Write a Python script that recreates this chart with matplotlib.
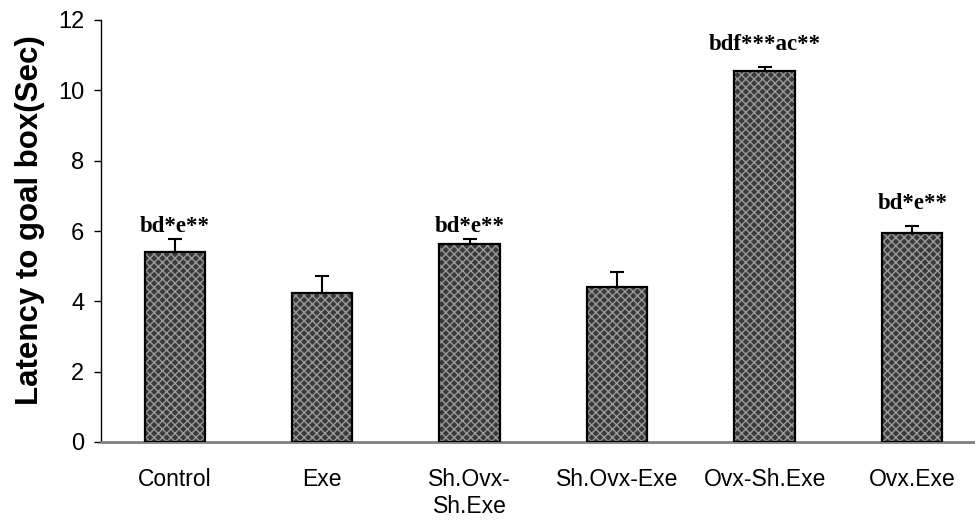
import matplotlib
matplotlib.use("Agg")
import matplotlib.pyplot as plt
import numpy as np

categories = ["Control", "Exe", "Sh.Ovx-\nSh.Exe", "Sh.Ovx-Exe", "Ovx-Sh.Exe", "Ovx.Exe"]
means = [5.39, 4.24, 5.62, 4.41, 10.55, 5.94]
sem = [0.38, 0.48, 0.15, 0.43, 0.11, 0.21]
sig_labels = ["bd*e**", "", "bd*e**", "", "bdf***ac**", "bd*e**"]
label_offsets = [5, 0, 5, 0, 12, 12]

fig = plt.figure(figsize=(9.75, 5.22), dpi=100)
W, H = 975, 522
left, right_px, bottom_px, top_px = 101, 975, 442, 20
ax = fig.add_axes([left / W, 1 - bottom_px / H, (right_px - left) / W, (bottom_px - top_px) / H])

x = np.arange(len(categories))
bw = 0.41
plt.rcParams['hatch.linewidth'] = 1.0
ax.bar(x, means, width=bw, color="#3a3a3a", edgecolor="#9a9a9a", hatch="xxxx", linewidth=0, zorder=2)
ax.bar(x, means, width=bw, fill=False, edgecolor="black", linewidth=1.6, zorder=3)
ax.errorbar(x, means, yerr=[np.zeros(len(sem)), sem], fmt="none", ecolor="black",
            elinewidth=1.5, capsize=4.7, capthick=1.5, zorder=4)

for xi, m, s, lab, off in zip(x, means, sem, sig_labels, label_offsets):
    if lab:
        ax.annotate(lab, (xi, m + s), xytext=(0, off), textcoords="offset points",
                    ha="center", va="baseline", fontsize=16.5, fontweight="bold",
                    family="Liberation Serif")

ax.set_xlim(-0.5, 5.5 - (986 - 975) / 148)
ax.set_ylim(0, 12)
ax.set_yticks(np.arange(0, 13, 2))
ax.set_yticklabels([str(v) for v in range(0, 13, 2)], fontsize=17, family="Liberation Sans")
ax.set_xticks(x)
ax.set_xticklabels(categories, fontsize=16.5, family="Liberation Sans", linespacing=1.2)
ax.tick_params(axis="x", length=0, pad=19)
ax.tick_params(axis="y", length=5, width=1, pad=7, direction="out")

for side in ["top", "right"]:
    ax.spines[side].set_visible(False)
ax.spines["left"].set_linewidth(1)
ax.spines["bottom"].set_color("#808080")
ax.spines["bottom"].set_linewidth(2)

ax.set_ylabel("Latency to goal box(Sec)", fontsize=22.5, fontweight="bold",
              family="Liberation Sans")
ax.yaxis.set_label_coords(-(101 - 45) / (975 - 101), 0.525)

fig.savefig("out.png", dpi=100)
